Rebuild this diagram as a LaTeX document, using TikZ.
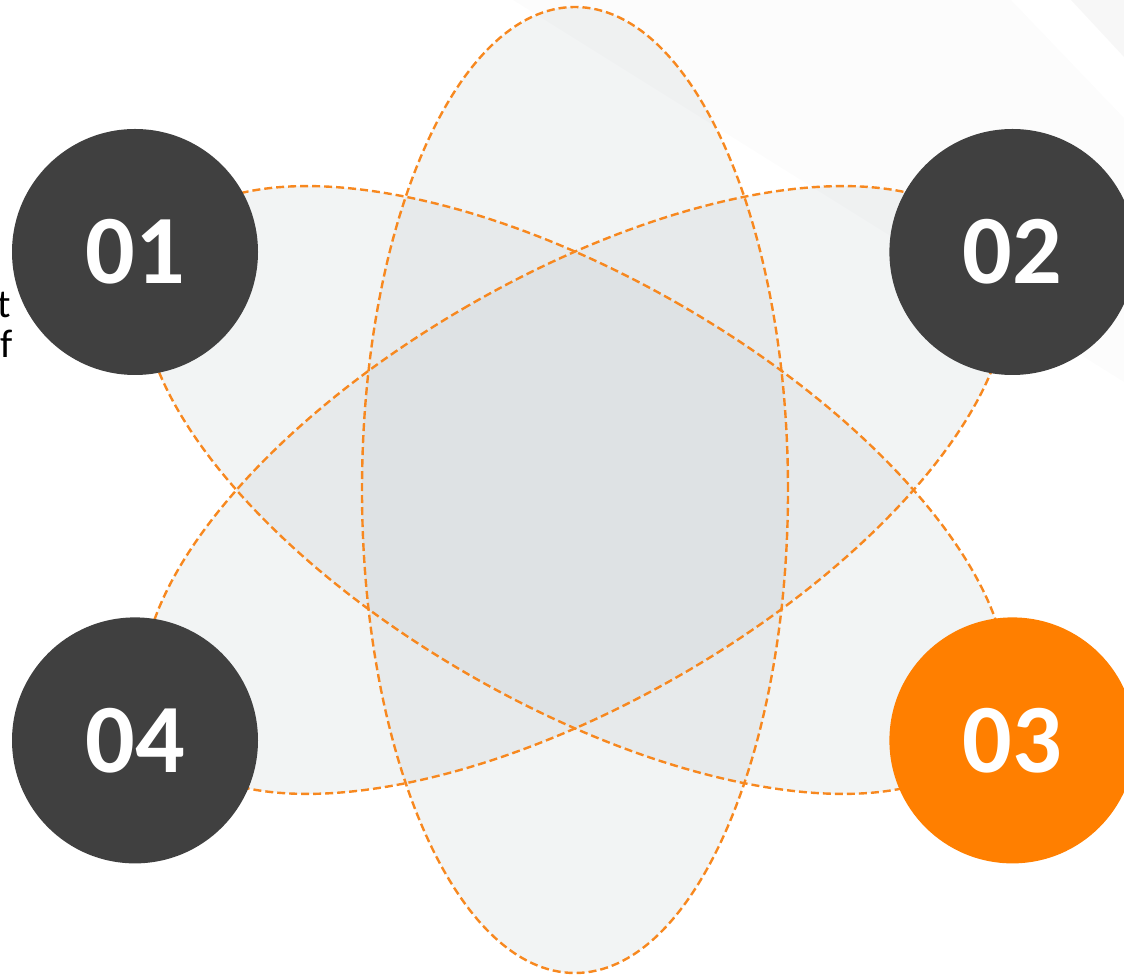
\documentclass[tikz,border=0pt]{standalone}
\usepackage{fontspec}
\setmainfont{Carlito}
\usepackage{tikz}
\usetikzlibrary{positioning}
\definecolor{darkdot}{HTML}{404040}
\definecolor{orangedot}{HTML}{FF7F00}
\definecolor{orbitline}{HTML}{F7881F}
\definecolor{orbitfill}{RGB}{178,188,192}
\tikzstyle{orbit} = [draw=orbitline, line width=2.4pt, dash pattern=on 8pt off 4pt]
\tikzstyle{orbitshade} = [fill=orbitfill, fill opacity=0.17]
\tikzstyle{numdot} = [circle, minimum size=246pt, inner sep=0pt, fill=darkdot, text=white, font=\fontsize{98}{98}\selectfont\bfseries]
\tikzstyle{sidetext} = [inner sep=0pt, anchor=base east, font=\fontsize{40}{46}\selectfont, text=black]

\begin{document}
\begin{tikzpicture}[x=1pt, y=1pt]
\useasboundingbox (0,0) rectangle (1124,975);

% Faint background bands
\fill[black!1.2] (513,975) -- (1011,975) -- (1124,857) -- (1124,593) -- cycle;
\fill[black!3] (1071,975) -- (1124,975) -- (1124,918) -- cycle;

% Orbits
\coordinate (ctr) at (575,485);
\foreach \ang in {0,60,120}
  \fill[orbitshade, rotate around={\ang:(ctr)}] (ctr) ellipse [x radius=213, y radius=483];
\foreach \ang in {0,60,120}
  \draw[orbit, rotate around={\ang:(ctr)}] (ctr) ellipse [x radius=213, y radius=483];

% Cut-off text at the left edge
\node (tline) [sidetext] at (11,657) {t};
\node (fline) [sidetext] at (13,617) {f};

% Numbered dots
\node (n01) [numdot] at (135,723) {01};
\node (n02) [numdot, right=631pt of n01] {02};
\node (n04) [numdot, below=242pt of n01] {04};
\node (n03) [numdot, fill=orangedot, right=631pt of n04] {03};

\end{tikzpicture}
\end{document}
